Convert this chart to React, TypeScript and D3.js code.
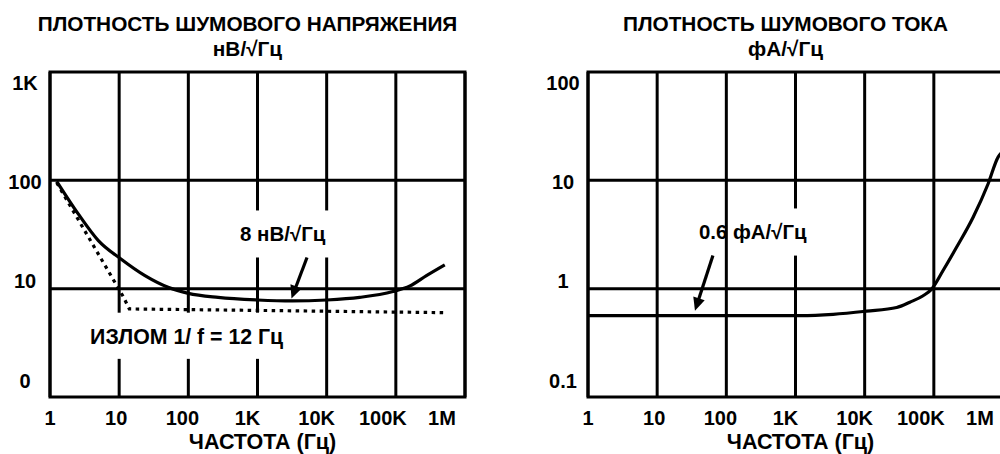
import React, { useEffect, useRef } from 'react';
import * as d3 from 'd3';

// x axis: frequency, Hz
const freqTicks = [1, 10, 100, 1e3, 1e4, 1e5, 1e6];
const freqTickLabels = ['1', '10', '100', '1K', '10K', '100K', '1M'];

// y axes
const voltageTicks = [1000, 100, 10, 1];
const voltageTickLabels = ['1K', '100', '10', '0'];
const currentTicks = [100, 10, 1, 0.1];
const currentTickLabels = ['100', '10', '1', '0.1'];

// voltage noise density, nV/√Hz (solid)
const voltageFreq = [1.25, 2.56, 5, 10.6, 23.6, 51, 100, 270, 1000, 3200, 10000, 30000, 91000, 160000, 277000, 510000];
const voltageValue = [98, 49, 27.8, 18.8, 13.2, 10.3, 9.05, 8.3, 7.86, 7.7, 7.86, 8.3, 9.4, 10.6, 13.2, 16.6];

// 1/f corner asymptote (dotted)
const cornerFreq = [1.25, 8.7, 11.5, 14, 1000, 550000];
const cornerValue = [95, 11.4, 8.4, 6.5, 6.3, 6.0];

// current noise density, fA/√Hz
const currentFreq = [1, 100, 1160, 3500, 10600, 29000, 45000, 70000, 93000, 136000, 213000, 370000, 610000, 850000, 1000000];
const currentValue = [0.565, 0.565, 0.565, 0.58, 0.62, 0.67, 0.75, 0.86, 0.99, 1.47, 2.41, 4.57, 9.3, 16.4, 18.5];

type Pt = [number, number];
interface Note {
  text: string;
  at: Pt;
  size: number;
  from?: Pt;
  to?: Pt;
  box: [Pt, Pt];
}

const voltageNotes: Note[] = [
  { text: '8 нВ/√Гц', at: [557, 27.8], size: 20.5, from: [5200, 19.4], to: [3100, 8.1], box: [[504, 52.7], [12300, 19.4]] },
  { text: 'ИЗЛОМ 1/ f = 12 Гц', at: [3.8, 3.1], size: 21.3, box: [[3.2, 6.0], [2900, 2.25]] },
];
const currentNotes: Note[] = [
  { text: '0.6 фА/√Гц', at: [40.2, 2.9], size: 20.4, from: [64, 2.02], to: [35.2, 0.625], box: [[157, 5.5], [1700, 2.02]] },
];

// layout
const W = 1000;
const H = 454;
const plotTop = 72;
const plotBottom = 397;
const plotW = 415;
const tickNudge = [0, -3, -6, -10, -10, -13, -23];
const FONT = '"Liberation Sans", Arial, sans-serif';

interface PanelCfg {
  left: number;
  title: string;
  unit: string;
  yDomain: [number, number];
  yTicks: number[];
  yTickLabels: string[];
  solid: Pt[];
  dotted?: Pt[];
  notes: Note[];
}

function drawPanel(svg: d3.Selection<SVGSVGElement, unknown, null, undefined>, cfg: PanelCfg) {
  const x = d3.scaleLog().domain([1, 1e6]).range([cfg.left, cfg.left + plotW]);
  const y = d3.scaleLog().domain(cfg.yDomain).range([plotBottom, plotTop]);
  const yLab = d3.scaleLog().domain(cfg.yDomain).range([plotBottom - 9.5, plotTop + 18]);
  const cx = cfg.left + plotW / 2;

  const g = svg.append('g')
    .attr('font-family', FONT)
    .attr('font-weight', 'bold')
    .attr('font-size', 20)
    .attr('fill', '#000');

  // titles
  g.append('text').attr('x', cx - 10).attr('y', 31).attr('text-anchor', 'middle').attr('font-size', 20.8).text(cfg.title);
  g.append('text').attr('x', cx - 10).attr('y', 56).attr('text-anchor', 'middle').attr('font-size', 20.8).text(cfg.unit);

  // grid
  const [yLo, yHi] = cfg.yDomain;
  g.selectAll('line.vgrid')
    .data(freqTicks)
    .join('line')
    .attr('x1', d => x(d)).attr('x2', d => x(d))
    .attr('y1', plotTop).attr('y2', plotBottom)
    .attr('stroke', '#000').attr('stroke-width', 3);
  g.selectAll('line.hgrid')
    .data(cfg.yTicks)
    .join('line')
    .attr('x1', cfg.left).attr('x2', cfg.left + plotW)
    .attr('y1', d => y(d)).attr('y2', d => y(d))
    .attr('stroke', '#000').attr('stroke-width', 3);
  g.append('rect')
    .attr('x', x(1)).attr('y', y(yHi))
    .attr('width', plotW).attr('height', y(yLo) - y(yHi))
    .attr('fill', 'none').attr('stroke', '#000').attr('stroke-width', 3);

  // white boxes behind labels
  g.selectAll('rect.box')
    .data(cfg.notes)
    .join('rect')
    .attr('x', d => x(d.box[0][0]))
    .attr('y', d => y(d.box[0][1]))
    .attr('width', d => x(d.box[1][0]) - x(d.box[0][0]))
    .attr('height', d => y(d.box[1][1]) - y(d.box[0][1]))
    .attr('fill', '#fff');

  // curves
  const smooth = d3.line<Pt>().x(d => x(d[0])).y(d => y(d[1])).curve(d3.curveMonotoneX);
  g.append('path')
    .attr('d', smooth(cfg.solid) || '')
    .attr('fill', 'none').attr('stroke', '#000').attr('stroke-width', 3.2);
  if (cfg.dotted) {
    const straight = d3.line<Pt>().x(d => x(d[0])).y(d => y(d[1]));
    g.append('path')
      .attr('d', straight(cfg.dotted) || '')
      .attr('fill', 'none').attr('stroke', '#000').attr('stroke-width', 3.2)
      .attr('stroke-dasharray', '3.5,4.5');
  }

  // annotations
  cfg.notes.forEach(n => {
    g.append('text').attr('x', x(n.at[0])).attr('y', y(n.at[1])).attr('font-size', n.size).text(n.text);
    if (n.from && n.to) {
      const x0 = x(n.from[0]), y0 = y(n.from[1]);
      const x1 = x(n.to[0]), y1 = y(n.to[1]);
      const len = Math.hypot(x1 - x0, y1 - y0);
      const ux = (x1 - x0) / len, uy = (y1 - y0) / len;
      const head = 13, half = 6;
      const bx = x1 - ux * head, by = y1 - uy * head;
      g.append('line')
        .attr('x1', x0).attr('y1', y0).attr('x2', bx + ux * 2).attr('y2', by + uy * 2)
        .attr('stroke', '#000').attr('stroke-width', 3.2);
      g.append('path')
        .attr('d', `M${x1},${y1}L${bx - uy * half},${by + ux * half}L${bx + uy * half},${by - ux * half}Z`)
        .attr('fill', '#000');
    }
  });

  // tick labels
  g.selectAll('text.xt')
    .data(freqTicks)
    .join('text')
    .attr('x', (d, i) => x(d) + tickNudge[i])
    .attr('y', 425)
    .attr('text-anchor', 'middle')
    .text((d, i) => freqTickLabels[i]);
  g.selectAll('text.yt')
    .data([yHi, ...cfg.yTicks, yLo])
    .join('text')
    .attr('x', cfg.left - 25)
    .attr('y', d => yLab(d))
    .attr('text-anchor', 'middle')
    .text((d, i) => cfg.yTickLabels[i]);

  g.append('text').attr('x', cx + 5).attr('y', 449).attr('text-anchor', 'middle').attr('font-size', 21.5).text('ЧАСТОТА (Гц)');
}

export default function App() {
  const svgRef = useRef<SVGSVGElement>(null);

  useEffect(() => {
    if (!svgRef.current) return;
    const svg = d3.select(svgRef.current);
    svg.selectAll('*').remove();

    const zip = (a: number[], b: number[]): Pt[] => a.map((v, i) => [v, b[i]]);

    drawPanel(svg, {
      left: 50,
      title: 'ПЛОТНОСТЬ ШУМОВОГО НАПРЯЖЕНИЯ',
      unit: 'нВ/√Гц',
      yDomain: [voltageTicks[3], voltageTicks[0]],
      yTicks: voltageTicks.slice(1, 3),
      yTickLabels: voltageTickLabels,
      solid: zip(voltageFreq, voltageValue),
      dotted: zip(cornerFreq, cornerValue),
      notes: voltageNotes,
    });
    drawPanel(svg, {
      left: 588,
      title: 'ПЛОТНОСТЬ ШУМОВОГО ТОКА',
      unit: 'фА/√Гц',
      yDomain: [currentTicks[3], currentTicks[0]],
      yTicks: currentTicks.slice(1, 3),
      yTickLabels: currentTickLabels,
      solid: zip(currentFreq, currentValue),
      notes: currentNotes,
    });
  }, []);

  return (
    <svg
      ref={svgRef}
      width={W}
      height={H}
      style={{ position: 'absolute', left: 0, top: 0, background: '#fff' }}
    />
  );
}
